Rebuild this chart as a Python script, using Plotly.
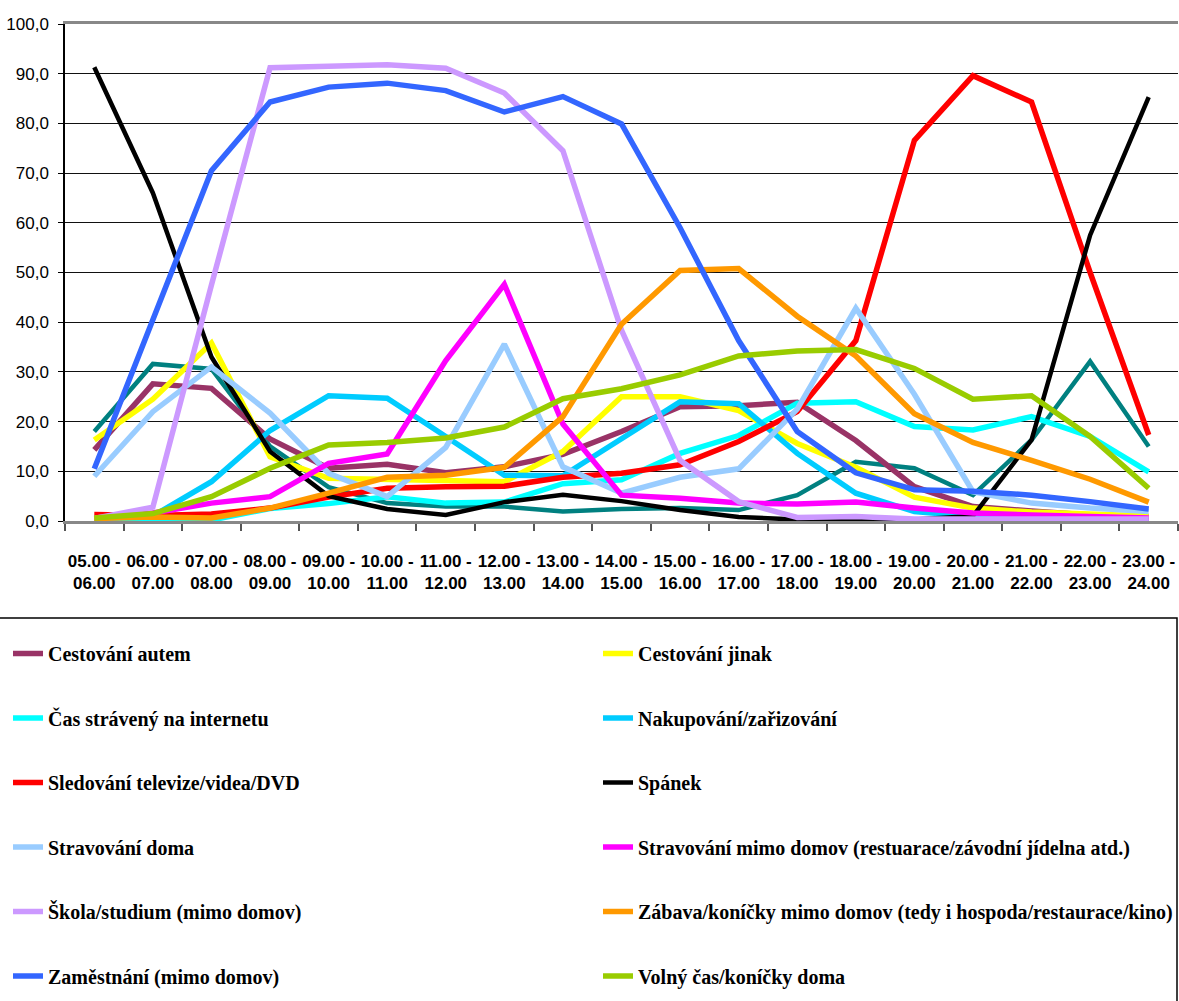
import plotly.graph_objects as go

# Hourly time slots (x categories)
slots = ["05.00 - 06.00", "06.00 - 07.00", "07.00 - 08.00", "08.00 - 09.00",
         "09.00 - 10.00", "10.00 - 11.00", "11.00 - 12.00", "12.00 - 13.00",
         "13.00 - 14.00", "14.00 - 15.00", "15.00 - 16.00", "16.00 - 17.00",
         "17.00 - 18.00", "18.00 - 19.00", "19.00 - 20.00", "20.00 - 21.00",
         "21.00 - 22.00", "22.00 - 23.00", "23.00 - 24.00"]

# Share of respondents (%) per activity and time slot
cestovani_autem = [14.3, 27.6, 26.7, 16.5, 10.6, 11.4, 9.7, 10.9, 13.4, 18.0, 23.0, 23.2, 23.9, 16.2, 6.9, 2.9, 2.0, 1.2, 0.8]
cestovani_jinak = [16.3, 24.5, 35.8, 12.9, 8.6, 8.3, 8.2, 7.9, 14.0, 25.0, 25.0, 22.2, 15.6, 10.8, 4.8, 2.6, 1.8, 1.3, 1.0]
internet = [0.3, 0.5, 0.2, 2.5, 3.5, 4.9, 3.6, 3.8, 7.5, 8.3, 13.6, 17.2, 23.7, 24.0, 19.0, 18.3, 21.0, 17.0, 9.9]
nakupovani = [0.5, 1.0, 7.9, 18.2, 25.2, 24.7, 17.0, 9.2, 9.1, 16.7, 24.0, 23.6, 13.6, 5.6, 1.9, 0.9, 0.5, 0.3, 0.2]
televize = [1.3, 1.1, 1.4, 2.6, 4.8, 6.6, 6.9, 7.0, 8.8, 9.6, 11.3, 16.0, 22.0, 36.3, 76.6, 89.6, 84.3, 50.0, 17.3]
spanek = [91.3, 66.0, 33.0, 14.0, 5.0, 2.4, 1.2, 3.8, 5.3, 4.0, 2.2, 0.8, 0.3, 0.2, 0.3, 1.0, 16.3, 57.5, 85.3]
strav_doma = [9.0, 22.0, 31.0, 21.7, 9.6, 4.9, 14.8, 35.6, 10.9, 5.6, 8.8, 10.5, 22.5, 42.8, 25.5, 5.9, 3.6, 2.6, 1.9]
strav_mimo = [0.6, 1.6, 3.6, 4.9, 11.6, 13.5, 32.3, 47.6, 19.5, 5.2, 4.6, 3.6, 3.4, 3.8, 2.6, 1.6, 1.2, 0.8, 0.6]
skola = [0.5, 2.8, 47.5, 91.2, 91.5, 91.8, 91.1, 86.1, 74.5, 38.4, 12.2, 3.9, 0.7, 0.9, 0.4, 0.4, 0.4, 0.4, 0.4]
zabava = [0.5, 0.8, 0.6, 2.6, 5.6, 8.8, 9.2, 10.8, 21.0, 39.6, 50.4, 50.8, 41.2, 33.2, 21.6, 15.8, 12.2, 8.4, 3.8]
zamestnani = [10.5, 40.5, 70.5, 84.3, 87.3, 88.1, 86.6, 82.3, 85.4, 79.9, 59.0, 36.3, 18.0, 9.7, 6.3, 6.0, 5.2, 3.9, 2.4]
volny_cas = [0.6, 1.5, 4.9, 10.6, 15.3, 15.8, 16.7, 18.9, 24.6, 26.6, 29.4, 33.2, 34.2, 34.5, 30.7, 24.5, 25.2, 17.0, 6.6]
ostatni = [18.0, 31.6, 30.6, 15.0, 6.8, 3.6, 2.9, 2.9, 1.9, 2.4, 2.6, 2.2, 5.2, 11.9, 10.6, 5.2, 16.3, 32.1, 15.0]

series = [
    ("Cestování autem", cestovani_autem, "#993366", "legend"),
    ("Cestování jinak", cestovani_jinak, "#FFFF00", "legend2"),
    ("Čas strávený na internetu", internet, "#00FFFF", "legend"),
    ("Nakupování/zařizování", nakupovani, "#00CCFF", "legend2"),
    ("Sledování televize/videa/DVD", televize, "#FF0000", "legend"),
    ("Spánek", spanek, "#000000", "legend2"),
    ("Stravování doma", strav_doma, "#99CCFF", "legend"),
    ("Stravování mimo domov (restuarace/závodní jídelna atd.)", strav_mimo, "#FF00FF", "legend2"),
    ("Škola/studium (mimo domov)", skola, "#CC99FF", "legend"),
    ("Zábava/koníčky mimo domov (tedy i hospoda/restaurace/kino)", zabava, "#FF9900", "legend2"),
    ("Zaměstnání (mimo domov)", zamestnani, "#3366FF", "legend"),
    ("Volný čas/koníčky doma", volny_cas, "#99CC00", "legend2"),
]

fig = go.Figure()

# Extra activity series without a visible legend entry
fig.add_trace(go.Scatter(x=slots, y=ostatni, mode="lines", name="Ostatní",
                         line=dict(color="#008080", width=4.5), showlegend=False))

for i, (name, vals, color, leg) in enumerate(series):
    fig.add_trace(go.Scatter(
        x=slots, y=vals, mode="lines", name=name,
        line=dict(color=color, width=5.5 if color != "#000000" else 4.5),
        legend=leg, legendgroup=f"g{i}",
    ))

tick_text = [s.replace(" - ", " -<br>") for s in slots]

W, H = 1179, 1001
ml, mr, mt, mb = 65, 1, 24, 480
pw, ph = W - ml - mr, H - mt - mb


def px_x(px):
    return (px - ml) / pw


def px_y(py):
    return (H - mb - py) / ph


sans = "Liberation Sans, Arial, sans-serif"
legend_font = dict(family="Times New Roman, Liberation Serif, Noto Serif, DejaVu Serif, serif",
                   size=20, color="black", weight="bold")
legend_common = dict(
    orientation="v", yanchor="top", xanchor="left",
    font=legend_font, bgcolor="rgba(0,0,0,0)", borderwidth=0,
    tracegroupgap=35.5, traceorder="grouped", itemwidth=30,
)

fig.update_layout(
    width=W, height=H,
    margin=dict(l=ml, r=mr, t=mt, b=mb, pad=0),
    paper_bgcolor="white", plot_bgcolor="white",
    separators=", ",
    font=dict(family=sans, color="black"),
    legend=dict(x=px_x(8), y=px_y(634), **legend_common),
    legend2=dict(x=px_x(598), y=px_y(634), **legend_common),
    shapes=[dict(type="rect", xref="paper", yref="paper",
                 x0=px_x(-10), x1=px_x(1177), y0=px_y(618), y1=px_y(1040),
                 line=dict(color="black", width=1.5), fillcolor="rgba(0,0,0,0)",
                 layer="below")],
)

fig.update_xaxes(
    type="category", range=[-0.5, len(slots) - 0.5],
    tickmode="array", tickvals=slots, ticktext=tick_text, tickangle=0,
    tickson="boundaries", ticks="outside", ticklen=7, tickcolor="#555", tickwidth=1.5,
    showline=True, linecolor="#888", linewidth=2.5, mirror=True,
    showgrid=False, automargin=False, ticklabelstandoff=23,
    tickfont=dict(family=sans, size=17, color="black", weight="bold"),
)

fig.update_yaxes(
    range=[0, 100], tickmode="linear", tick0=0, dtick=10, tickformat=".1f",
    ticks="outside", ticklen=5, tickcolor="black",
    showline=True, linecolor="black", linewidth=1.5,
    showgrid=True, gridcolor="#111", gridwidth=1, zeroline=False,
    automargin=False, ticklabelstandoff=6,
    tickfont=dict(family=sans, size=17, color="black"),
)

fig.write_html("out.html")
